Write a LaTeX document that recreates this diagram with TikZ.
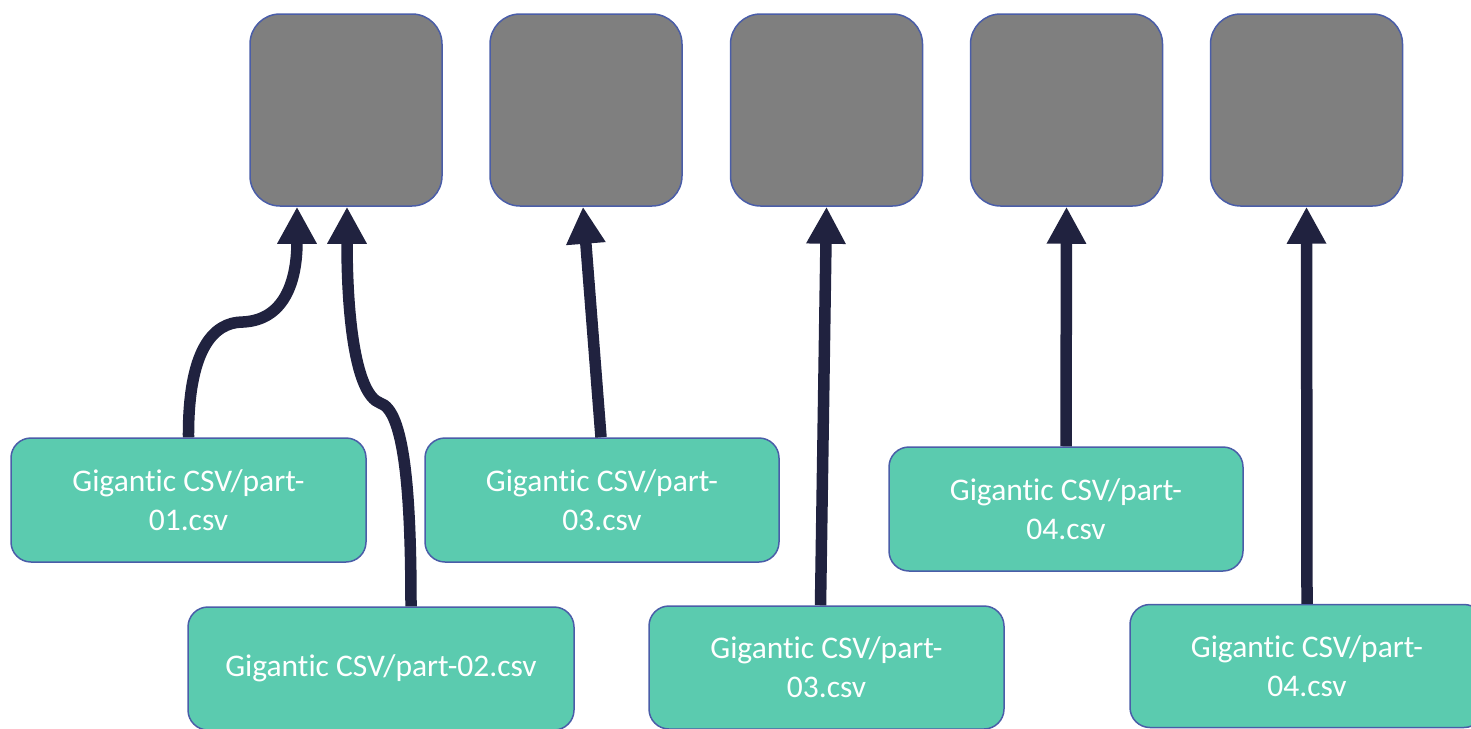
\documentclass[tikz,border=0pt]{standalone}
\usepackage{fontspec}
\setmainfont{Carlito}[Ligatures={NoCommon}]
\usetikzlibrary{arrows.meta}
\definecolor{boxgray}{HTML}{7F7F7F}
\definecolor{edgeblue}{HTML}{4A5DA8}
\definecolor{csvgreen}{HTML}{5BCBAF}
\definecolor{arrownavy}{HTML}{20223F}
\begin{document}
\begin{tikzpicture}[x=1pt,y=-1pt,
  worker/.style={draw=edgeblue,line width=1.5pt,fill=boxgray,rounded corners=30pt,minimum width=192pt,minimum height=192pt,inner sep=0pt},
  csvbox/.style={draw=edgeblue,line width=1.5pt,fill=csvgreen,rounded corners=20pt,minimum width=354pt,minimum height=123pt,inner sep=0pt,align=center,text=white,font=\fontsize{31.5}{39}\selectfont},
  feed/.style={draw=arrownavy,line width=11.5pt,-{Triangle[width=37pt,length=37pt]}}]
\useasboundingbox (0,0) rectangle (1471,728);
\clip (0,0) rectangle (1471,728);
% workers
\node[worker] (w1) at (346,110) {};
\node[worker] (w2) at (586,110) {};
\node[worker] (w3) at (826.5,110) {};
\node[worker] (w4) at (1066.5,110) {};
\node[worker] (w5) at (1306.5,110) {};
% csv parts
\node[csvbox,minimum width=355pt,minimum height=124pt] (g1) at (188.5,500) {Gigantic CSV/part-\\01.csv};
\node[csvbox,minimum width=386pt] (g2) at (381,668.5) {Gigantic CSV/part-02.csv};
\node[csvbox,minimum height=124pt] (g3) at (602,500) {Gigantic CSV/part-\\03.csv};
\node[csvbox,minimum width=355pt] (g4) at (826.5,667.5) {Gigantic CSV/part-\\03.csv};
\node[csvbox,minimum height=124pt] (g5) at (1066,509) {Gigantic CSV/part-\\04.csv};
\node[csvbox] (g6) at (1307,666) {Gigantic CSV/part-\\04.csv};
% connectors
\draw[feed] (g1.north) .. controls (188,352) and (212,322) .. (243,322)
  .. controls (284,320) and (297,282) .. ([xshift=-49pt]w1.south);
\draw[feed] ([xshift=30pt]g2.north) .. controls (411,490) and (404,410) .. (380,403)
  .. controls (356,394) and (347,320) .. ([xshift=1pt]w1.south);
\draw[feed] ([xshift=-1pt]g3.north) -- ([xshift=-3pt]w2.south);
\draw[feed] ([xshift=-6pt]g4.north) -- (w3.south);
\draw[feed] (g5.north) -- (w4.south);
\draw[feed] (g6.north) -- (w5.south);
\end{tikzpicture}
\end{document}
